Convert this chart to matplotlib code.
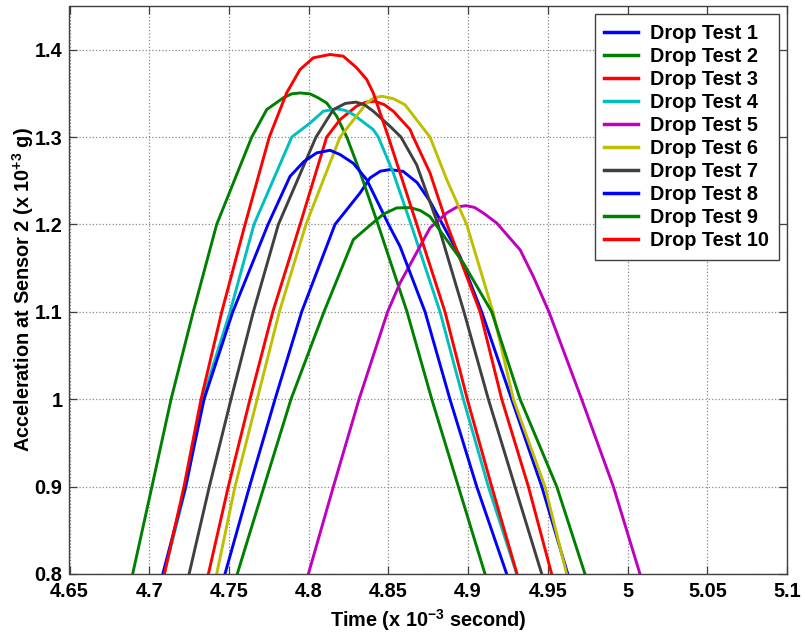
import matplotlib
matplotlib.use("Agg")
import matplotlib.pyplot as plt
from matplotlib.ticker import FuncFormatter

plt.rcParams['font.family'] = ['Liberation Sans', 'DejaVu Sans']
plt.rcParams['font.weight'] = 'bold'
plt.rcParams['mathtext.fontset'] = 'custom'
plt.rcParams['mathtext.rm'] = 'Liberation Sans:bold'
plt.rcParams['mathtext.bf'] = 'Liberation Sans:bold'
plt.rcParams['mathtext.default'] = 'bf'

# ---- data (time in 1e-3 s, acceleration in 1e3 g) ----
t1 = [4.7475, 4.7629, 4.7789, 4.7956, 4.8165, 4.8322, 4.8385, 4.8450, 4.8510, 4.8592, 4.8680, 4.8761, 4.8840, 4.8949, 4.9085, 4.9273, 4.9462, 4.9625]
a1 = [0.8, 0.9, 1.0, 1.1, 1.2, 1.236, 1.2533, 1.2610, 1.2628, 1.2608, 1.2480, 1.2265, 1.2, 1.1635, 1.1, 1.0, 0.9, 0.8]

t2 = [4.6896, 4.7017, 4.7137, 4.7276, 4.7423, 4.7643, 4.7737, 4.7841, 4.7894, 4.7946, 4.8008, 4.8059, 4.8113, 4.8176, 4.8239, 4.8322, 4.8435, 4.8617, 4.8772, 4.8939, 4.9106]
a2 = [0.8, 0.9, 1.0, 1.1, 1.2, 1.3, 1.3315, 1.3449, 1.3495, 1.3505, 1.3495, 1.345, 1.339, 1.3238, 1.3, 1.26, 1.2, 1.1, 1.0, 0.9, 0.8]

t3 = [4.7371, 4.7496, 4.7632, 4.7775, 4.7946, 4.8113, 4.8197, 4.8301, 4.8360, 4.8416, 4.8475, 4.8531, 4.8636, 4.8656, 4.8761, 4.8868, 4.9075, 4.9211, 4.9378, 4.9524]
a3 = [0.8, 0.9, 1.0, 1.1, 1.2, 1.3, 1.32, 1.3355, 1.3400, 1.341, 1.3370, 1.3296, 1.3086, 1.3, 1.259, 1.2, 1.1, 1.0, 0.9, 0.8]

t4 = [4.7093, 4.7231, 4.7334, 4.7507, 4.7657, 4.7894, 4.8008, 4.8092, 4.8176, 4.8230, 4.8280, 4.8405, 4.8437, 4.8531, 4.8642, 4.8824, 4.8970, 4.9127, 4.9305]
a4 = [0.8, 0.9, 1.0, 1.1, 1.2, 1.3, 1.3160, 1.3296, 1.3323, 1.3305, 1.3258, 1.3086, 1.3, 1.259, 1.2, 1.1, 1.0, 0.9, 0.8]

t5 = [4.7998, 4.8155, 4.8316, 4.8495, 4.8573, 4.8761, 4.8866, 4.8930, 4.8987, 4.9040, 4.9095, 4.9179, 4.9326, 4.9409, 4.9507, 4.9712, 4.9911, 5.0078]
a5 = [0.8, 0.9, 1.0, 1.1, 1.133, 1.196, 1.2132, 1.2200, 1.2215, 1.2195, 1.2132, 1.2017, 1.171, 1.1405, 1.1, 1.0, 0.9, 0.8]

t6 = [4.7423, 4.7538, 4.7677, 4.7816, 4.7983, 4.8197, 4.8364, 4.8410, 4.8460, 4.8530, 4.8604, 4.8761, 4.8866, 4.8991, 4.9156, 4.9284, 4.9482, 4.9618]
a6 = [0.8, 0.9, 1.0, 1.1, 1.2, 1.3, 1.339, 1.3450, 1.3467, 1.3440, 1.337, 1.3, 1.2513, 1.2, 1.1, 1.0, 0.9, 0.8]

t7 = [4.7250, 4.7377, 4.7513, 4.7653, 4.7810, 4.8046, 4.8155, 4.8230, 4.8297, 4.8350, 4.8405, 4.8510, 4.8579, 4.8678, 4.8811, 4.8974, 4.9127, 4.9294, 4.9462]
a7 = [0.8, 0.9, 1.0, 1.1, 1.2, 1.3, 1.3315, 1.3385, 1.340, 1.3370, 1.3296, 1.3124, 1.3, 1.268, 1.2, 1.1, 1.0, 0.9, 0.8]

t8 = [4.7085, 4.7228, 4.7344, 4.7524, 4.7745, 4.7883, 4.7970, 4.8050, 4.8134, 4.8197, 4.8280, 4.8364, 4.8501, 4.8573, 4.8730, 4.8886, 4.9054, 4.9242]
a8 = [0.8, 0.9, 1.0, 1.1, 1.2, 1.255, 1.2720, 1.2819, 1.2849, 1.28, 1.270, 1.2513, 1.2, 1.1749, 1.1, 1.0, 0.9, 0.8]

t9 = [4.7552, 4.7720, 4.7889, 4.8096, 4.8280, 4.8391, 4.8470, 4.8552, 4.8636, 4.8700, 4.8761, 4.8970, 4.9148, 4.9326, 4.9556, 4.9733]
a9 = [0.8, 0.9, 1.0, 1.1, 1.1826, 1.2, 1.2120, 1.2189, 1.2193, 1.2160, 1.209, 1.1559, 1.1, 1.0, 0.9, 0.8]

t10 = [4.7095, 4.7218, 4.7325, 4.7455, 4.7601, 4.7753, 4.7862, 4.7946, 4.8029, 4.8134, 4.8217, 4.8301, 4.8364, 4.8405, 4.8500, 4.8573, 4.8678, 4.8855, 4.8995, 4.9148, 4.9307]
a10 = [0.8, 0.9, 1.0, 1.1, 1.2, 1.3, 1.3506, 1.3773, 1.3907, 1.3945, 1.3926, 1.3793, 1.3659, 1.3506, 1.3, 1.259, 1.2, 1.1, 1.0, 0.9, 0.8]

labels = ['Drop Test %d' % i for i in range(1, 11)]
times = [t1, t2, t3, t4, t5, t6, t7, t8, t9, t10]
accs = [a1, a2, a3, a4, a5, a6, a7, a8, a9, a10]
colors = ['#0000ff', '#008000', '#ff0000', '#00bfbf', '#bf00bf',
          '#bfbf00', '#404040', '#0000ff', '#008000', '#ff0000']

xticks = [4.65, 4.7, 4.75, 4.8, 4.85, 4.9, 4.95, 5.0, 5.05, 5.1]
yticks = [0.8, 0.9, 1.0, 1.1, 1.2, 1.3, 1.4]

fig = plt.figure(figsize=(8.03, 6.32), dpi=100)
ax = fig.add_axes([69.5 / 803, 58 / 632, (787 - 69.5) / 803, (574 - 6) / 632])

for t, a, c, lab in zip(times, accs, colors, labels):
    ax.plot(t, a, color=c, lw=2.1, label=lab, solid_joinstyle='round')

ax.set_xlim(4.65, 5.1)
ax.set_ylim(0.8, 1.45)
ax.set_xticks(xticks)
ax.set_yticks(yticks)
fmt = FuncFormatter(lambda v, p: '%g' % round(v, 3))
ax.xaxis.set_major_formatter(fmt)
ax.yaxis.set_major_formatter(fmt)
ax.tick_params(direction='in', top=True, right=True, length=6, width=0.9,
               labelsize=14.3, color='#404040')
ax.tick_params(axis='x', pad=6)
ax.tick_params(axis='y', pad=5)
ax.grid(True, linestyle=':', color='#8a8a8a', linewidth=0.9)
for s in ax.spines.values():
    s.set_color('#404040')
    s.set_linewidth(1.0)

ax.set_xlabel(r'Time (x 10$^{-3}$ second)', fontsize=14.3, fontweight='bold', labelpad=4)
ax.set_ylabel(r'Acceleration at Sensor 2 (x 10$^{+3}$ g)', fontsize=14.3, fontweight='bold', labelpad=-1)

leg = ax.legend(loc='upper right', fontsize=14.3, frameon=True, fancybox=False,
                framealpha=1, edgecolor='#404040', handlelength=1.7,
                handletextpad=0.6, labelspacing=0.2, borderpad=0.5,
                borderaxespad=0.4)
leg.get_frame().set_linewidth(1.0)
for l in leg.get_lines():
    l.set_linewidth(2.5)

fig.savefig('out.png', dpi=100, facecolor='white')
